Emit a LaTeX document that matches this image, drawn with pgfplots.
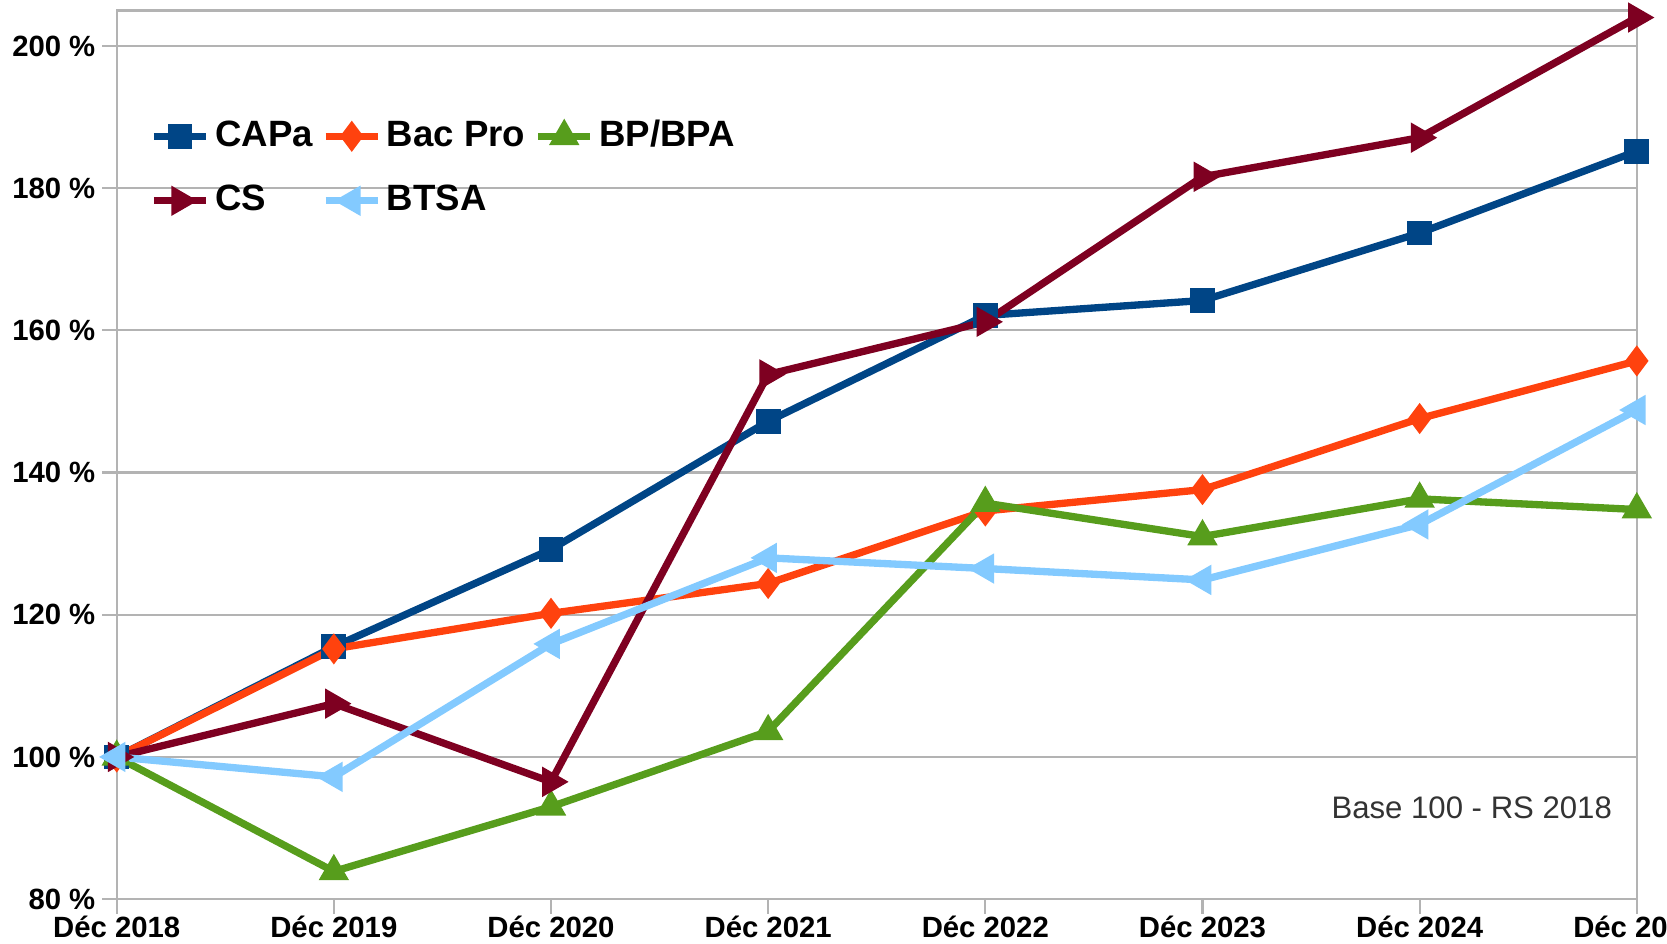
\documentclass[border=0pt]{standalone}
\usepackage{fontspec}
\setmainfont{Liberation Sans}
\usepackage{pgfplots}
\pgfplotsset{compat=1.18}

\definecolor{capa}{HTML}{004586}
\definecolor{bacpro}{HTML}{FF420E}
\definecolor{bpbpa}{HTML}{579D1C}
\definecolor{cs}{HTML}{7E0021}
\definecolor{btsa}{HTML}{83CAFF}
\definecolor{gridgray}{HTML}{B3B3B3}

\begin{document}
\begin{tikzpicture}
\begin{axis}[
    width=14.59cm, height=8.53cm, scale only axis,
    xmin=0, xmax=7, ymin=80, ymax=205,
    xtick={0,...,7},
    xticklabels={Déc 2018,Déc 2019,Déc 2020,Déc 2021,Déc 2022,Déc 2023,Déc 2024,Déc 2025},
    ytick={80,100,...,200},
    yticklabel={\pgfmathprintnumber{\tick}~\%},
    /pgf/number format/assume math mode=true,
    ticklabel style={font=\bfseries\fontsize{8}{9}\selectfont},
    xticklabel style={yshift=3.8pt},
    yticklabel style={xshift=2.5pt},
    ymajorgrids,
    major grid style={gridgray, line width=0.6pt},
    axis line style={gridgray, line width=0.6pt},
    tick style={gridgray, line width=0.6pt},
    tick align=outside, major tick length=4pt,
    xtick pos=bottom, ytick pos=left,
    clip=false,
    line width=2pt,
    legend columns=3,
    legend cell align=left,
    legend image code/.code={
        \draw[mark repeat=2, mark phase=2] plot coordinates {(0cm,0cm) (0.25cm,0cm) (0.5cm,0cm)};
    },
    legend style={at={(0.0125,0.897)}, anchor=north west, draw=none, fill=none,
        font=\bfseries\fontsize{10}{12}\selectfont,
        nodes={inner xsep=1.5pt},
        row sep=5pt,
        /tikz/every even column/.append style={column sep=1pt}},
]
\coordinate (sw) at (rel axis cs:0,0);
\coordinate (ne) at (rel axis cs:1,1);

% CAPa
\addplot[color=capa, mark=square*, mark size=2.4pt] coordinates {
    (0,100) (1,115.5) (2,129.2) (3,147.2) (4,162.1) (5,164.2) (6,173.7) (7,185.2)
};
\addlegendentry{CAPa}

% Bac Pro
\addplot[color=bacpro, mark=diamond*, mark size=2.6pt] coordinates {
    (0,100) (1,115.2) (2,120.2) (3,124.4) (4,134.6) (5,137.6) (6,147.6) (7,155.7)
};
\addlegendentry{Bac Pro}

% BP/BPA
\addplot[color=bpbpa, mark=triangle*, mark size=2.8pt] coordinates {
    (0,100) (1,83.9) (2,93.0) (3,103.6) (4,135.7) (5,131.0) (6,136.3) (7,134.8)
};
\addlegendentry{BP/BPA}

% CS
\addplot[color=cs, mark=triangle*, mark size=2.8pt, mark options={rotate=-90}] coordinates {
    (0,100) (1,107.5) (2,96.5) (3,153.8) (4,161.2) (5,181.6) (6,187.1) (7,204.0)
};
\addlegendentry{CS}

% BTSA
\addplot[color=btsa, mark=triangle*, mark size=2.8pt, mark options={rotate=90}] coordinates {
    (0,100) (1,97.2) (2,115.9) (3,128.0) (4,126.5) (5,124.9) (6,132.7) (7,148.8)
};
\addlegendentry{BTSA}

\node[font=\fontsize{8.5}{10}\selectfont, text=black!80] at (axis cs:6.24,92.9) {Base 100 - RS 2018};
\end{axis}
\pgfresetboundingbox
\path ([shift={(-1.12cm,-0.43cm)}]sw) rectangle ([shift={(0.29cm,0.1cm)}]ne);
\end{tikzpicture}
\end{document}
